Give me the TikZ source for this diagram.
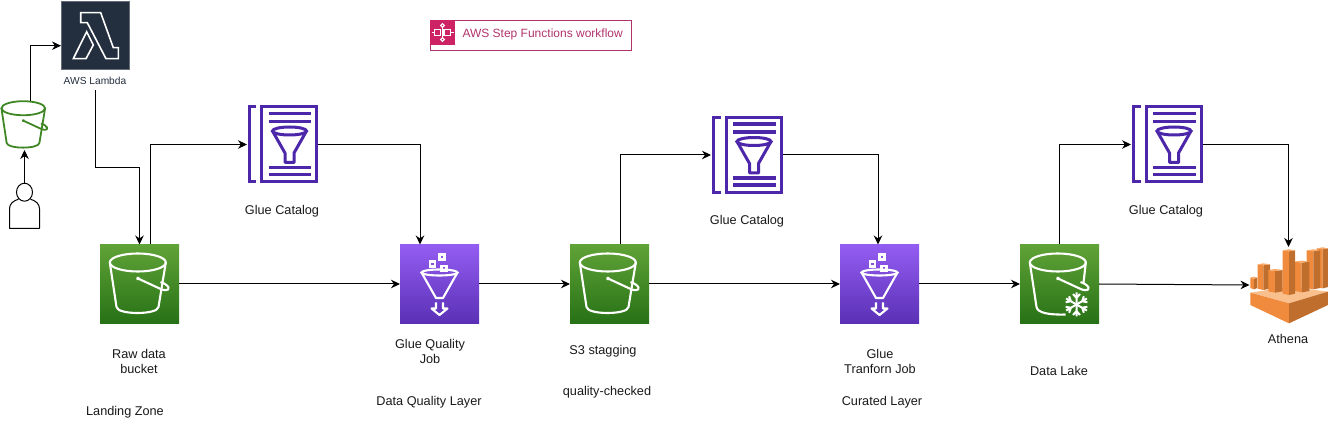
\documentclass[tikz,border=0pt]{standalone}
\usepackage{fontspec}
\setmainfont{Liberation Sans}
\usepackage{xcolor}
\usetikzlibrary{arrows.meta, positioning, calc}

\definecolor{bktgreen}{HTML}{3F8624}
\definecolor{s3top}{HTML}{60A337}
\definecolor{s3bottom}{HTML}{277116}
\definecolor{gluetop}{HTML}{945DF2}
\definecolor{gluebottom}{HTML}{5A30B5}
\definecolor{catpurple}{HTML}{4D27AA}
\definecolor{lambdadark}{HTML}{232F3E}
\definecolor{stepred}{HTML}{CD2264}
\definecolor{stepline}{HTML}{B0346C}
\definecolor{athtopc}{HTML}{F9C08E}
\definecolor{athcapc}{HTML}{F8A868}
\definecolor{athleftc}{HTML}{F08A3C}
\definecolor{athrightc}{HTML}{BF6E2D}

\tikzset{
    rimglyph/.pic={
        \draw[pic actions] (-1.7,-21.5) ellipse (28 and 9);
        \draw[pic actions, line join=round] (-1.5,-5.5) circle (.8) -- (19,4) .. controls (24,7) and (30,7) .. (29,3.5) .. controls (28,1) and (24,-1) .. (21,-2);
    },
    bucketglyph/.pic={
        \draw[pic actions] (-1.7,-21.5) ellipse (28 and 9);
        \draw[pic actions, line join=round] (-1.5,-5.5) circle (.8) -- (19,4) .. controls (24,7) and (30,7) .. (29,3.5) .. controls (28,1) and (24,-1) .. (21,-2);
        \draw[pic actions, line join=round] (-29.7,-21.5) -- (-23,23) .. controls (-22,31) and (18,31) .. (19,23) -- (26.3,-21.5);
    },
    funnelglyph/.pic={
        \draw[pic actions] (0,-11.5) ellipse (18 and 3);
        \draw[pic actions, line join=round] (-18,-11.5) -- (-3.5,14) -- (3.5,14) -- (18,-11.5);
        \draw[pic actions, line join=round] (-3.5,18.5) -- (-3.5,24.5) -- (-8,24.5) -- (0,31) -- (8,24.5) -- (3.5,24.5) -- (3.5,18.5);
        \draw[pic actions] (0,-29.5) rectangle (5,-24.5);
        \draw[pic actions] (-9.5,-22.5) rectangle (-4.5,-17.5);
        \draw[pic actions] (2,-18) rectangle (7,-13);
    },
    catalogglyph/.pic={
        \draw[catpurple, line width=3pt] (-26.5,-37.5) -- (-33.5,-37.5) -- (-33.5,37.5) -- (-26.5,37.5);
        \draw[catpurple, line width=3pt] (-21,-37.5) rectangle (34,37.5);
        \foreach \ybar in {-31,-23,23,30} {
            \draw[catpurple, line width=3.4pt] (-14,\ybar) -- (28.5,\ybar);
        }
        \draw[catpurple, line width=3pt] (7,-13.5) ellipse (17 and 4);
        \draw[catpurple, line width=3pt, line join=round] (-10,-13.5) -- (2.5,8.5) -- (2.5,18) -- (11.5,18) -- (11.5,8.5) -- (24,-13.5);
    },
    lambdaglyph/.pic={
        \draw[white, line width=1.6pt, line join=miter] (-14.3,-22.3) -- (5.7,-22.3) -- (18.3,12.7) -- (23.3,12.7) -- (23.3,23.7) -- (11,23.7) -- (-7.7,-12.3) -- (-14.3,-12.3) -- cycle;
        \draw[white, line width=1.6pt, line join=miter] (-8.3,-3.3) -- (-1.7,10) -- (-9,23.7) -- (-21.7,23.7) -- cycle;
    },
    flakeglyph/.pic={
        \foreach \ang in {30,90,150,210,270,330} {
            \draw[white, line width=2pt, rotate=\ang] (0,0) -- (12,0) (6.5,0) -- (10.5,3.5) (6.5,0) -- (10.5,-3.5);
        }
    },
    userglyph/.pic={
        \draw[black, line width=1pt] (0,-13.5) ellipse (8 and 9);
        \draw[black, line width=1pt, line join=round] (-6,-6.5) .. controls (-11,-5) and (-15,-2) .. (-15,3) -- (-15,22.7) -- (15,22.7) -- (15,3) .. controls (15,-2) and (11,-5) .. (6,-6.5);
    },
    stepglyph/.pic={
        \draw[white, line width=1.1pt] (0,-7) circle (1.8) (0,7) circle (1.8);
        \draw[white, line width=1.1pt] (-8,-2.7) rectangle (-2,3.3) (1.5,-2.7) rectangle (8,3.3);
        \draw[white, line width=1.1pt] (0,-5.2) -- (0,5.2) (-8,.3) -- (-11,.3) (8,.3) -- (11,.3);
    },
    athenaglyph/.pic={
        \begin{scope}[x=.3333pt, y=-.3333pt, shift={(-145.5,-135)}]
            \fill[athtopc] (31,158) -- (147,140) -- (264,155) -- (147,190) -- cycle;
            \fill[athleftc] (31,158) -- (147,190) -- (147,250) -- (31,195) -- cycle;
            \fill[athrightc] (147,190) -- (264,155) -- (264,195) -- (147,250) -- cycle;
            \foreach \xa/\xm/\xb/\ytop/\ybot in {230/248/264/22/145, 200/220/240/28/148, 165/185/208/62/157, 31/42/52/110/148, 53/70/90/70/150, 85/105/128/87/158, 128/147/165/28/165} {
                \fill[athleftc] (\xa,\ytop+3) -- (\xm,\ytop+6) -- (\xm,\ybot) -- (\xa,\ybot-4) -- cycle;
                \fill[athrightc] (\xm,\ytop+6) -- (\xb,\ytop+3) -- (\xb,\ybot-4) -- (\xm,\ybot) -- cycle;
                \fill[athcapc] (\xa,\ytop+3) -- (\xm,\ytop) -- (\xb,\ytop+3) -- (\xm,\ytop+6) -- cycle;
            }
        \end{scope}
    }
}

\begin{document}
\begin{tikzpicture}[x=1pt, y=-1pt, >={Stealth[length=9pt, width=8.5pt]}, line width=1pt,
                    svcbox/.style={minimum size=79pt, inner sep=0pt, outer sep=0pt},
                    s3box/.style={svcbox, top color=s3top, bottom color=s3bottom},
                    gluebox/.style={svcbox, top color=gluetop, bottom color=gluebottom},
                    plainbox/.style={inner sep=0pt, outer sep=0pt},
                    lbl/.style={align=center, inner sep=0pt, font=\fontsize{12.7}{15}\selectfont, text=black!90},
                    whiteline/.style={draw=white, line width=2.1pt}]
    \useasboundingbox (0,0) rectangle (1328,446);

    % Workflow legend
    \node[plainbox, draw=stepline, minimum width=201pt, minimum height=30pt] (stepframe) at (530.5,35.5) {};
    \node[plainbox, fill=stepred, minimum size=25pt] (stepicon) at (442.5,32.5) {};
    \node[inner sep=0pt, right=7pt of stepicon, yshift=-1.5pt, text=stepline, font=\fontsize{12}{14}\selectfont] (steplabel) {AWS Step Functions workflow};
    \pic at (stepicon) {stepglyph};

    % Upload path
    \node[plainbox, minimum width=30pt, minimum height=45.5pt] (user) at (24.5,205.7) {};
    \pic at (user) {userglyph};
    \node[plainbox, minimum width=46pt, minimum height=49pt] (inbkt) at (24.5,125.5) {};
    \pic[draw=bktgreen, line width=1.8pt, scale=.78] at (24.6,125) {bucketglyph};
    \node[plainbox, fill=lambdadark, draw=lambdadark!70!white, line width=.6pt, minimum size=68pt] (lambda) at (95,35) {};
    \pic at (lambda) {lambdaglyph};
    \node[plainbox, minimum height=20pt, text=lambdadark, font=\fontsize{10.2}{12}\selectfont] (lambdatxt) at (95,80.5) {AWS Lambda};

    % Service boxes
    \node[s3box] (raw) at (139.5,284) {};
    \pic[whiteline] at (raw) {bucketglyph};
    \node[gluebox] (qjob) at (439.5,284) {};
    \pic[whiteline] at (qjob) {funnelglyph};
    \node[s3box] (stag) at (609.5,284) {};
    \pic[whiteline] at (stag) {bucketglyph};
    \node[gluebox] (tjob) at (879.5,284) {};
    \pic[whiteline] at (tjob) {funnelglyph};
    \node[s3box] (lake) at (1059.5,284) {};
    \pic[whiteline] at (lake) {rimglyph};
    \draw[whiteline, line join=round] ($(lake)+(-29.7,-21.5)$) -- ($(lake)+(-23,23)$) .. controls ($(lake)+(-22,29)$) and ($(lake)+(-10,31)$) .. ($(lake)+(6,30.5)$);
    \draw[whiteline] ($(lake)+(26.3,-21.5)$) -- ($(lake)+(24,-1)$);
    \pic at ($(lake)+(17,20.5)$) {flakeglyph};
    \node[plainbox, minimum width=78pt, minimum height=76pt] (athena) at (1288.5,285) {};
    \pic at (athena) {athenaglyph};

    % Catalogs
    \node[plainbox, minimum width=71pt, minimum height=78pt] (cat1) at (282.5,144.5) {};
    \pic at (cat1) {catalogglyph};
    \node[plainbox, minimum width=72pt, minimum height=78pt] (cat2) at (747,155) {};
    \pic at (cat2) {catalogglyph};
    \node[plainbox, minimum width=72pt, minimum height=78pt] (cat3) at (1167,144.5) {};
    \pic at (cat3) {catalogglyph};

    % Labels
    \node[lbl] (cat1txt) at (282,211) {Glue Catalog};
    \node[lbl] (cat2txt) at (747,221) {Glue Catalog};
    \node[lbl] (cat3txt) at (1166,211) {Glue Catalog};
    \node[lbl] (rawtxt) at (139,361) {Raw data\\bucket};
    \node[lbl] (rawzone) at (125,412) {Landing Zone};
    \node[lbl] (qjobtxt) at (430,351.5) {Glue Quality\\Job};
    \node[lbl] (qjobzone) at (429,402) {Data Quality Layer};
    \node[lbl] (stagtxt) at (603,351) {S3 stagging};
    \node[lbl] (stagzone) at (607,392) {quality-checked};
    \node[lbl] (tjobtxt) at (880,361.5) {Glue\\Tranforn Job};
    \node[lbl] (tjobzone) at (882,402) {Curated Layer};
    \node[lbl] (laketxt) at (1059,371) {Data Lake};
    \node[lbl] (athenatxt) at (1288,339) {Athena};

    % Connectors
    \coordinate (lambdabend) at (139.5,168);
    \draw[->] (user.north) -- (inbkt.south);
    \draw[->] ([xshift=6pt]inbkt.north) |- ([yshift=-10.7pt]lambda.west);
    \draw[->] (lambdatxt.south) |- (lambdabend) -- (raw.north);

    \draw[->] ([xshift=10.8pt]raw.north) |- (cat1.west);
    \draw[->] (cat1.east) -| ([xshift=-19.5pt]qjob.north);
    \draw[->] (raw.east) -- (qjob.west);
    \draw[->] (qjob.east) -- (stag.west);

    \draw[->] ([xshift=10.5pt]stag.north) |- (cat2.west);
    \draw[->] (cat2.east) -| ([xshift=-1.5pt]tjob.north);
    \draw[->] (stag.east) -- (tjob.west);
    \draw[->] (tjob.east) -- (lake.west);

    \draw[->] (lake.north) |- (cat3.west);
    \draw[->] (cat3.east) -| (athena.north);
    \draw[->] (lake.east) -- (athena.west);
\end{tikzpicture}
\end{document}
